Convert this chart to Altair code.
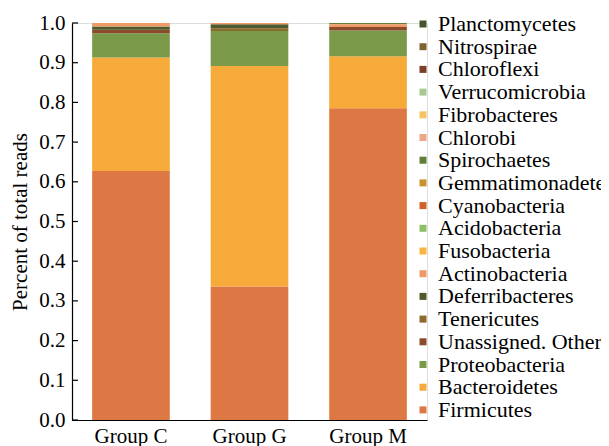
import altair as alt
import pandas as pd

groups = ["Group C", "Group G", "Group M"]

# legend order (top to bottom)
phyla = ["Planctomycetes", "Nitrospirae", "Chloroflexi", "Verrucomicrobia",
         "Fibrobacteres", "Chlorobi", "Spirochaetes", "Gemmatimonadetes",
         "Cyanobacteria", "Acidobacteria", "Fusobacteria", "Actinobacteria",
         "Deferribacteres", "Tenericutes", "Unassigned. Other",
         "Proteobacteria", "Bacteroidetes", "Firmicutes"]
colors = ["#45542C", "#7D6230", "#7A3F25", "#A7C991",
          "#F7C463", "#EFA587", "#5F7F36", "#C8922F",
          "#D2602B", "#8CBF66", "#F9B540", "#EF9A64",
          "#4E5A2C", "#8C6A2C", "#8B4A2A",
          "#7A9A4A", "#F5AA3A", "#DD7744"]

# fractions of total reads per group (Group C, Group G, Group M)
firmicutes = [0.627, 0.336, 0.785]
bacteroidetes = [0.286, 0.556, 0.131]
proteobacteria = [0.061, 0.088, 0.065]
unassigned_other = [0.009, 0.000, 0.009]
tenericutes = [0.000, 0.007, 0.000]
deferribacteres = [0.008, 0.010, 0.000]
spirochaetes = [0.000, 0.000, 0.003]
actinobacteria = [0.009, 0.003, 0.007]

y_ticks = [0.0, 0.1, 0.2, 0.3, 0.4, 0.5, 0.6, 0.7, 0.8, 0.9, 1.0]

series = {
    "Firmicutes": firmicutes,
    "Bacteroidetes": bacteroidetes,
    "Proteobacteria": proteobacteria,
    "Unassigned. Other": unassigned_other,
    "Tenericutes": tenericutes,
    "Deferribacteres": deferribacteres,
    "Spirochaetes": spirochaetes,
    "Actinobacteria": actinobacteria,
}

rows = []
for name, vals in series.items():
    for g, v in zip(groups, vals):
        if v > 0:
            rows.append({"group": g, "phylum": name, "value": v,
                         "ord": len(phyla) - phyla.index(name)})
df = pd.DataFrame(rows)

FONT = "Liberation Serif"
yscale = alt.Scale(domain=[0, 1], nice=False, zero=True)
yaxis = alt.Axis(title="Percent of total reads", values=y_ticks,
                 format=".1f", grid=False, ticks=False,
                 labelFont=FONT, labelFontSize=21,
                 labelColor="black", labelPadding=7,
                 domainColor="black", domainWidth=1.2,
                 titleFont=FONT, titleFontSize=21,
                 titleFontWeight="normal", titleColor="black",
                 titlePadding=8)

bars = alt.Chart(df).mark_bar(strokeWidth=0).encode(
    x=alt.X("group:N", sort=groups,
            scale=alt.Scale(paddingInner=0.345, paddingOuter=0.17),
            axis=alt.Axis(title=None, labelAngle=0, labelFont=FONT,
                          labelFontSize=21, labelColor="black", ticks=False,
                          domainColor="black", domainWidth=1.2,
                          labelPadding=5)),
    y=alt.Y("value:Q", stack="zero", scale=yscale, axis=yaxis),
    color=alt.Color("phylum:N",
                    scale=alt.Scale(domain=phyla, range=colors),
                    legend=alt.Legend(orient="none", legendX=340, legendY=-10,
                                      title=None, symbolType="square",
                                      symbolSize=49, symbolStrokeWidth=0,
                                      labelFont=FONT, labelFontSize=22,
                                      labelColor="black", labelOffset=4,
                                      rowPadding=0.7, padding=0,
                                      labelLimit=400)),
    order=alt.Order("ord:Q", sort="ascending"),
)

tick_df = pd.DataFrame({"t": y_ticks})
ticks = alt.Chart(tick_df).mark_rule(color="black", strokeWidth=1.2).encode(
    y=alt.Y("t:Q", scale=yscale, axis=yaxis),
    x=alt.value(0),
    x2=alt.value(6),
)

chart = alt.layer(bars, ticks).properties(
    width=355, height=397,
    autosize=alt.AutoSizeParams(type="none"),
    padding={"left": 64, "top": 15, "right": 174, "bottom": 26},
).configure_view(stroke=None).configure(background="white")

chart.save("out.html", embed_options={"renderer": "svg", "actions": False})
